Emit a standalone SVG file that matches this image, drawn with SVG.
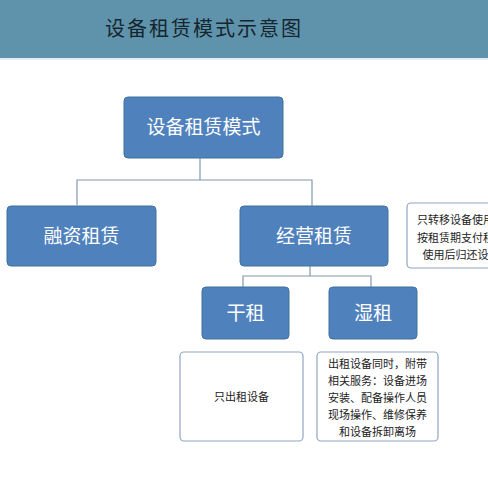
<svg xmlns="http://www.w3.org/2000/svg" width="488" height="500" viewBox="0 0 488 500">
<style>
.node rect{fill:#4f81bd;stroke:#41719c;stroke-width:1}
.node text{fill:#ffffff;font-family:"Noto Sans CJK SC",sans-serif;font-size:19px;text-anchor:middle}
.note rect{fill:#ffffff;stroke:#8ea5c1;stroke-width:1.2}
.note text{fill:#222222;font-family:"Noto Sans CJK SC",sans-serif;font-size:11px;text-anchor:middle}
.conn path{fill:none;stroke:#8198b2;stroke-width:1.2}
</style>
<rect x="0" y="0" width="488" height="500" fill="#ffffff"/>
<g id="header">
<rect x="0" y="0" width="488" height="58" fill="#5f93ab"/>
<rect x="0" y="58" width="488" height="2" fill="#e4edf1"/>
<text x="105" y="36" font-family="Noto Sans CJK SC,sans-serif" font-size="20" letter-spacing="2" fill="#15262f">设备租赁模式示意图</text>
</g>
<g id="connectors" class="conn">
<path d="M200,158 V180 M77,205 V180 H312 V206"/>
<path d="M310,266 V276 M243,287 V276 H371 V287"/>
</g>
<g id="root" class="node"><rect x="124" y="97" width="159" height="61" rx="4"/><text x="203.5" y="134">设备租赁模式</text></g>
<g id="finance" class="node"><rect x="7" y="206" width="149" height="60" rx="4"/><text x="81.5" y="243">融资租赁</text></g>
<g id="operate" class="node"><rect x="240" y="206" width="148" height="60" rx="4"/><text x="314" y="243">经营租赁</text></g>
<g id="dry" class="node"><rect x="202" y="287" width="87" height="52" rx="4"/><text x="245.5" y="320">干租</text></g>
<g id="wet" class="node"><rect x="329" y="287" width="88" height="52" rx="4"/><text x="373" y="320">湿租</text></g>
<g id="note-operate" class="note">
<rect x="407" y="203" width="110" height="65" rx="4"/>
<text x="461" y="224">只转移设备使用权</text>
<text x="461" y="242">按租赁期支付租金</text>
<text x="461" y="259">使用后归还设备</text>
</g>
<g id="note-dry" class="note">
<rect x="180" y="352" width="123" height="89" rx="4"/>
<text x="241.5" y="401">只出租设备</text>
</g>
<g id="note-wet" class="note">
<rect x="317" y="352" width="121" height="89" rx="4"/>
<text x="377.5" y="368">出租设备同时，附带</text>
<text x="377.5" y="385">相关服务：设备进场</text>
<text x="377.5" y="402">安装、配备操作人员</text>
<text x="377.5" y="419">现场操作、维修保养</text>
<text x="377.5" y="436">和设备拆卸离场</text>
</g>
</svg>
